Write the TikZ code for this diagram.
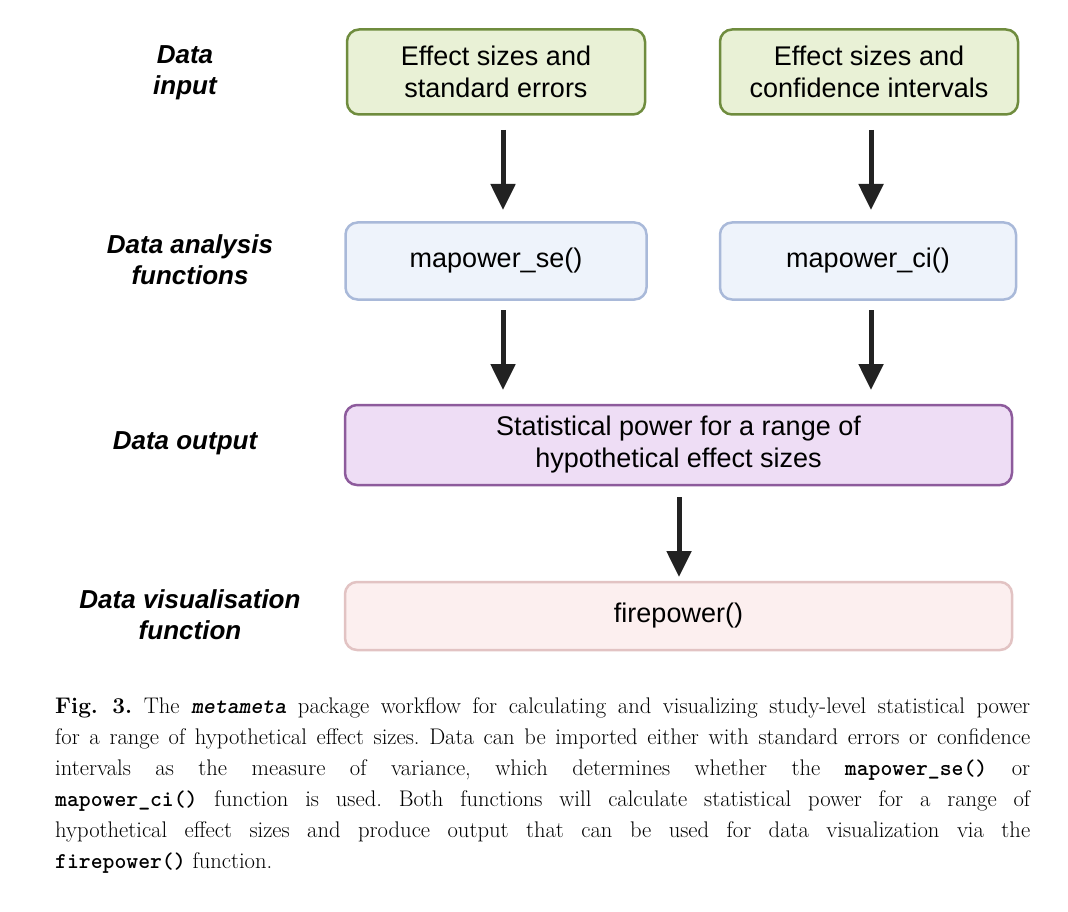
\documentclass[tikz,border=0pt]{standalone}
\usepackage{fontspec}
\setmainfont{Latin Modern Roman}
\newfontfamily\boxfont{Liberation Sans}
\usetikzlibrary{arrows.meta}
\definecolor{ingreen}{HTML}{E9F1D6}
\definecolor{ingreenline}{HTML}{6F8C3E}
\definecolor{fnblue}{HTML}{EEF3FB}
\definecolor{fnblueline}{HTML}{A9B9D9}
\definecolor{outpurple}{HTML}{EEDDF5}
\definecolor{outpurpleline}{HTML}{8D5B9C}
\definecolor{vispink}{HTML}{FCEFEF}
\definecolor{vispinkline}{HTML}{E2C3C3}
\definecolor{arrowgrey}{HTML}{222222}
\tikzset{
  box/.style={draw, line width=2.5pt, rounded corners=12pt, inner sep=0pt, align=center,
    font=\boxfont\fontsize{27}{32}\selectfont},
  rowlabel/.style={align=center, font=\boxfont\bfseries\itshape\fontsize{26}{31}\selectfont},
  flow/.style={draw=arrowgrey, line width=5pt, -{Triangle[length=26pt,width=24pt]}},
}
\begin{document}
\begin{tikzpicture}[x=1pt, y=-1pt]
  \useasboundingbox (0,0) rectangle (1068,912);

  % row labels
  \node[rowlabel] (lin) at (185,73) {Data\\input};
  \node[rowlabel] (lan) at (190,260) {Data analysis\\functions};
  \node[rowlabel] (lout) at (185,443) {Data output};
  \node[rowlabel] (lvis) at (190,615) {Data visualisation\\function};

  % boxes
  \node[box, fill=ingreen, draw=ingreenline, minimum width=298pt, minimum height=85pt] (se) at (496,72) {Effect sizes and\\standard errors};
  \node[box, fill=ingreen, draw=ingreenline, minimum width=298pt, minimum height=85pt] (ci) at (869,72) {Effect sizes and\\confidence intervals};
  \node[box, fill=fnblue, draw=fnblueline, minimum width=301pt, minimum height=77pt] (mse) at (496,261) {mapower\_se()};
  \node[box, fill=fnblue, draw=fnblueline, minimum width=296pt, minimum height=77pt] (mci) at (868,261) {mapower\_ci()};
  \node[box, fill=outpurple, draw=outpurpleline, minimum width=667pt, minimum height=80pt] (out) at (678.5,445) {Statistical power for a range of\\hypothetical effect sizes};
  \node[box, fill=vispink, draw=vispinkline, minimum width=667pt, minimum height=68pt] (fp) at (678.5,616) {firepower()};

  % arrows
  \coordinate (a1) at (503,130); \coordinate (b1) at (503,210);
  \coordinate (a2) at (871,130); \coordinate (b2) at (871,210);
  \coordinate (a3) at (503,310); \coordinate (b3) at (503,390);
  \coordinate (a4) at (871,310); \coordinate (b4) at (871,390);
  \coordinate (a5) at (679,497); \coordinate (b5) at (679,577);
  \draw[flow] (a1) -- (b1);
  \draw[flow] (a2) -- (b2);
  \draw[flow] (a3) -- (b3);
  \draw[flow] (a4) -- (b4);
  \draw[flow] (a5) -- (b5);

  % caption
  \node[anchor=north west, inner sep=0pt, text width=975pt, align=justify,
    font=\fontsize{22.6}{31}\selectfont\frenchspacing] (cap) at (55,697)
    {\textbf{Fig.~3.} The \texttt{\bfseries\itshape metameta} package workflow for calculating and visualizing study-level statistical power\linebreak
    for a range of hypothetical effect sizes. Data can be imported either with standard errors or confidence\linebreak
    intervals as the measure of variance, which determines whether the \texttt{\bfseries mapower\_se()} or\linebreak
    \texttt{\bfseries mapower\_ci()} function is used. Both functions will calculate statistical power for a range of\linebreak
    hypothetical effect sizes and produce output that can be used for data visualization via the\linebreak
    \texttt{\bfseries firepower()} function.};
\end{tikzpicture}
\end{document}
